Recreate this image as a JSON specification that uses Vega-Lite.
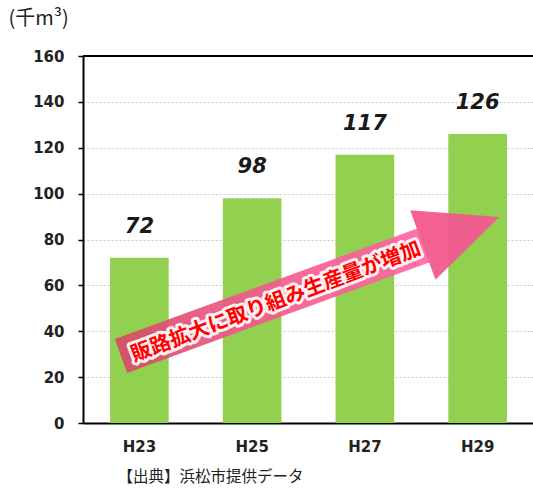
{
  "$schema": "https://vega.github.io/schema/vega-lite/v6.json",
  "width": 451,
  "height": 367,
  "autosize": "none",
  "padding": {"left": 83, "top": 56, "right": 0, "bottom": 65},
  "config": {"view": {"stroke": null}, "font": "DejaVu Sans"},
  "datasets": {
    "bars": [
      {"year": "H23", "value": 72},
      {"year": "H25", "value": 98},
      {"year": "H27", "value": 117},
      {"year": "H29", "value": 126}
    ],
    "frame": [{"v": 160}],
    "arrowBody": [{"pos": 0.337, "v": 29.2}, {"pos": 3.02, "v": 77.4}],
    "arrowHead": [{"pos": 3.353, "v": 83.7}],
    "caption": [{"pos": 1.712, "v": 52.7, "text": "販路拡大に取り組み生産量が増加"}]
  },
  "layer": [
    {
      "data": {"name": "bars"},
      "layer": [
        {
          "mark": {"type": "bar", "color": "#92D050"},
          "encoding": {
            "x": {
              "field": "year", "type": "nominal", "sort": null,
              "scale": {"paddingInner": 0.48, "paddingOuter": 0.24},
              "axis": {
                "title": "【出典】浜松市提供データ",
                "titleX": 34, "titleY": 53, "titleAlign": "left", "titleBaseline": "middle",
                "titleFont": "Noto Sans CJK JP", "titleFontSize": 15.5, "titleFontWeight": "normal", "titleColor": "#222222",
                "labelAngle": 0, "labelFontWeight": "bold", "labelFontSize": 15, "labelColor": "#222222", "labelPadding": 16,
                "ticks": false, "domainColor": "#000000", "domainWidth": 2
              }
            },
            "y": {
              "field": "value", "type": "quantitative",
              "scale": {"domain": [0, 160], "nice": false},
              "axis": {
                "values": [0, 20, 40, 60, 80, 100, 120, 140, 160],
                "title": "(千m³)",
                "titleAngle": 0, "titleX": -75, "titleY": -38, "titleAlign": "left", "titleBaseline": "middle",
                "titleFont": "Noto Sans CJK JP", "titleFontSize": 20, "titleFontWeight": "normal", "titleColor": "#222222",
                "labelFontWeight": "bold", "labelFontSize": 15, "labelColor": "#222222", "labelPadding": 14,
                "tickSize": 5, "tickColor": "#000000", "tickWidth": 1.5,
                "domainColor": "#000000", "domainWidth": 2,
                "grid": true, "gridColor": "#c8c8c8", "gridDash": [2, 2], "gridWidth": 1
              }
            }
          }
        },
        {
          "mark": {"type": "text", "fontStyle": "italic", "fontWeight": "bold", "fontSize": 21, "dy": -31, "baseline": "middle", "color": "#1a1a1a"},
          "encoding": {
            "x": {"field": "year", "type": "nominal", "sort": null},
            "y": {"field": "value", "type": "quantitative"},
            "text": {"field": "value", "type": "quantitative"}
          }
        }
      ]
    },
    {
      "data": {"name": "frame"},
      "mark": {"type": "rule", "color": "#000000", "strokeWidth": 2},
      "encoding": {"y": {"field": "v", "type": "quantitative"}}
    },
    {
      "data": {"name": "arrowBody"},
      "mark": {
        "type": "line", "strokeWidth": 36, "strokeCap": "butt", "opacity": 0.92,
        "color": {"x1": 0, "y1": 0, "x2": 1, "y2": 0, "gradient": "linear", "stops": [{"offset": 0, "color": "#d64a68"}, {"offset": 0.45, "color": "#f25a8c"}, {"offset": 1, "color": "#ff66a3"}]}
      },
      "encoding": {
        "x": {"field": "pos", "type": "quantitative", "scale": {"domain": [0, 4], "nice": false, "zero": false}, "axis": null},
        "y": {"field": "v", "type": "quantitative"}
      }
    },
    {
      "data": {"name": "arrowHead"},
      "mark": {"type": "point", "shape": "M 1.1 0 L -1.1 -1 L -1.1 1 Z", "size": 5476, "angle": -20, "filled": true, "color": "#f2588f", "opacity": 0.95},
      "encoding": {
        "x": {"field": "pos", "type": "quantitative", "scale": {"domain": [0, 4], "nice": false, "zero": false}, "axis": null},
        "y": {"field": "v", "type": "quantitative"}
      }
    },
    {
      "data": {"name": "caption"},
      "mark": {"type": "text", "font": "Noto Sans CJK JP", "fontWeight": "bold", "fontSize": 20.5, "angle": -20.5, "align": "center", "baseline": "middle", "fill": "#ffffff", "stroke": "#ffffff", "strokeWidth": 6, "strokeJoin": "round", "opacity": 0.9},
      "encoding": {
        "x": {"field": "pos", "type": "quantitative", "scale": {"domain": [0, 4], "nice": false, "zero": false}, "axis": null},
        "y": {"field": "v", "type": "quantitative"},
        "text": {"field": "text"}
      }
    },
    {
      "data": {"name": "caption"},
      "mark": {"type": "text", "font": "Noto Sans CJK JP", "fontWeight": "bold", "fontSize": 20.5, "angle": -20.5, "align": "center", "baseline": "middle", "color": "#ff0000"},
      "encoding": {
        "x": {"field": "pos", "type": "quantitative", "scale": {"domain": [0, 4], "nice": false, "zero": false}, "axis": null},
        "y": {"field": "v", "type": "quantitative"},
        "text": {"field": "text"}
      }
    }
  ],
  "resolve": {"scale": {"x": "independent"}}
}
